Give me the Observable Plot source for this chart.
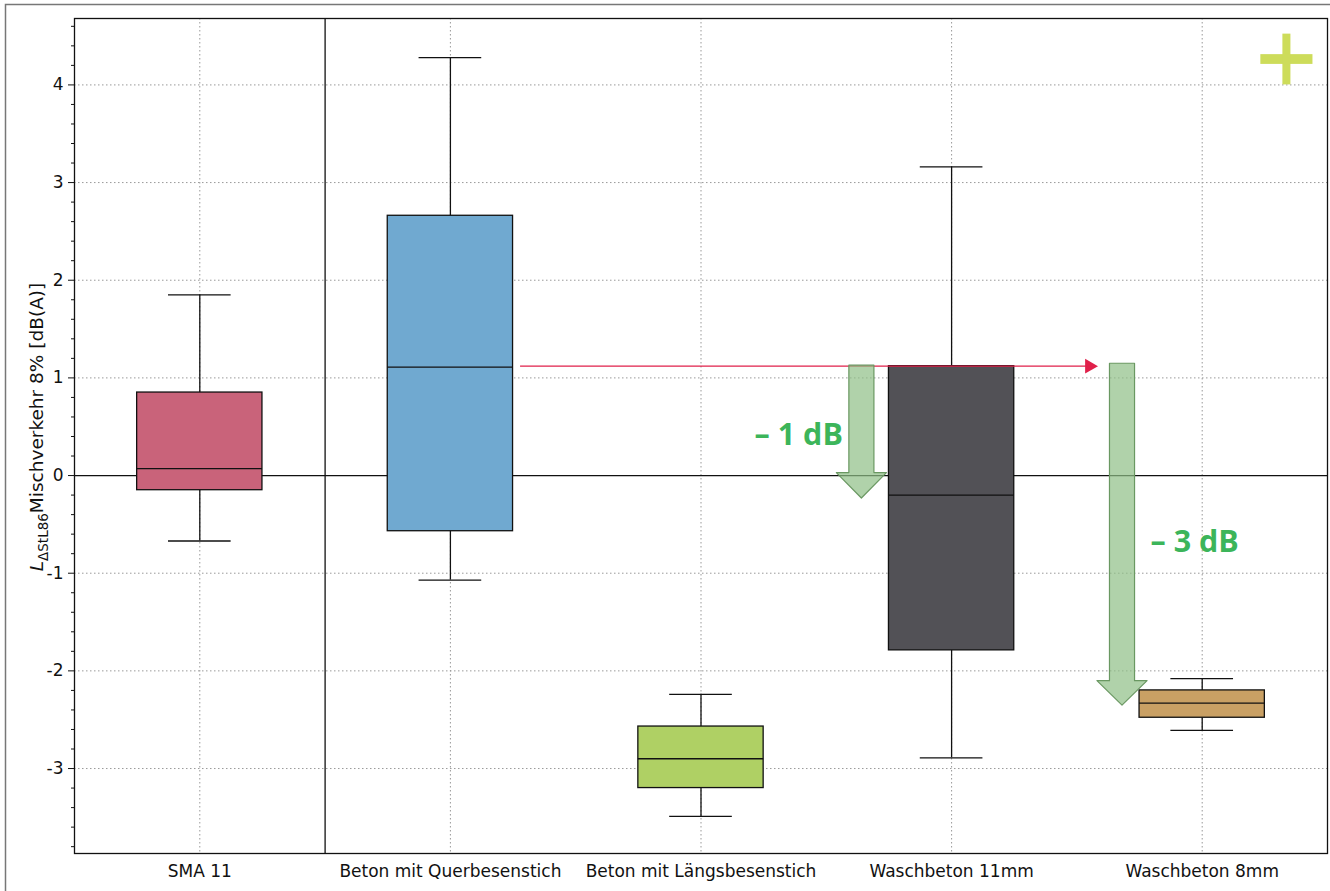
<!DOCTYPE html>
<html>
<head>
<meta charset="utf-8">
<script src="https://cdn.jsdelivr.net/npm/d3@7"></script>
<script src="https://cdn.jsdelivr.net/npm/@observablehq/plot@0.6"></script>
<style>
  html, body { margin: 0; padding: 0; background: #fff; }
  #chart { position: relative; width: 1330px; height: 891px; }
</style>
</head>
<body>
<div id="chart"></div>
<script>
// ---- data ----
const categories = ["SMA 11", "Beton mit Querbesenstich", "Beton mit Längsbesenstich", "Waschbeton 11mm", "Waschbeton 8mm"];
const whiskerLow  = [-0.67, -1.07, -3.49, -2.89, -2.61];
const q1          = [-0.15, -0.57, -3.20, -1.79, -2.48];
const median      = [ 0.07,  1.11, -2.90, -0.20, -2.33];
const q3          = [ 0.85,  2.66, -2.57,  1.12, -2.20];
const whiskerHigh = [ 1.85,  4.28, -2.24,  3.16, -2.08];
const boxColors   = ["#c9637a", "#70a9d0", "#afd064", "#525156", "#c9a064"];
const yTicks = [-3, -2, -1, 0, 1, 2, 3, 4];

// annotations (data coordinates)
const refLevel = 1.12;               // red reference line level
const refFrom = 2.28, refTo = 4.57;  // red arrow x extent
const arrow1 = [[3.59,1.13],[3.69,1.13],[3.69,0.03],[3.74,0.03],[3.64,-0.23],[3.54,0.03],[3.59,0.03],[3.59,1.13]];
const arrow2 = [[4.63,1.15],[4.73,1.15],[4.73,-2.10],[4.78,-2.10],[4.68,-2.35],[4.58,-2.10],[4.63,-2.10],[4.63,1.15]];
const labels = [{x: 3.39, y: 0.41, text: "– 1 dB"}, {x: 4.97, y: -0.68, text: "– 3 dB"}];
const logoBars = [{x1: 5.234, x2: 5.442, y1: 4.31, y2: 4.21}, {x1: 5.322, x2: 5.354, y1: 4.52, y2: 4.0}];

const boxes = categories.map((c, i) => ({
  i: i + 1, cat: c, lo: whiskerLow[i], q1: q1[i], med: median[i], q3: q3[i], hi: whiskerHigh[i], color: boxColors[i]
}));
const halfBox = 0.25, halfCap = 0.125;
const minorTicks = d3.range(-38, 47, 2).map(v => v / 10).filter(v => !yTicks.includes(v));

const plot = Plot.plot({
  width: 1330,
  height: 891,
  marginLeft: 74,
  marginRight: 3,
  marginTop: 18,
  marginBottom: 38,
  style: {fontFamily: "DejaVu Sans, sans-serif", fontSize: "17px", color: "#111", background: "transparent"},
  x: {type: "linear", domain: [0.5, 5.5]},
  y: {domain: [-3.87, 4.68]},
  marks: [
    Plot.gridX([1,2,3,4,5], {stroke: "#999", strokeOpacity: 1, strokeDasharray: "1.5,2.5"}),
    Plot.gridY(yTicks.filter(d => d !== 0), {stroke: "#999", strokeOpacity: 1, strokeDasharray: "1.5,2.5"}),
    Plot.ruleY([0], {stroke: "#111", strokeWidth: 1.3}),
    Plot.ruleX([1.5], {stroke: "#111", strokeWidth: 1.3}),
    // whiskers
    Plot.ruleX(boxes, {x: "i", y1: "lo", y2: "q1", stroke: "#111", strokeWidth: 1.3}),
    Plot.ruleX(boxes, {x: "i", y1: "q3", y2: "hi", stroke: "#111", strokeWidth: 1.3}),
    Plot.ruleY(boxes, {y: "lo", x1: d => d.i - halfCap, x2: d => d.i + halfCap, stroke: "#111", strokeWidth: 1.3}),
    Plot.ruleY(boxes, {y: "hi", x1: d => d.i - halfCap, x2: d => d.i + halfCap, stroke: "#111", strokeWidth: 1.3}),
    // boxes
    Plot.rect(boxes, {x1: d => d.i - halfBox, x2: d => d.i + halfBox, y1: "q1", y2: "q3", fill: d => d.color, stroke: "#111", strokeWidth: 1.3}),
    Plot.ruleY(boxes, {y: "med", x1: d => d.i - halfBox, x2: d => d.i + halfBox, stroke: "#111", strokeWidth: 1.3}),
    // red reference arrow
    Plot.ruleY([refLevel], {x1: refFrom, x2: refTo - 0.02, stroke: "#e0204a", strokeWidth: 1.4}),
    Plot.dot([refLevel], {x: refTo - 0.02, y: d => d, symbol: "triangle", rotate: 90, r: 5.5, fill: "#e0204a", stroke: "none"}),
    // green arrows
    Plot.line(arrow1, {x: d => d[0], y: d => d[1], fill: "#8fbf86", fillOpacity: 0.7, stroke: "#6a9862", strokeWidth: 1.2, curve: "linear"}),
    Plot.line(arrow2, {x: d => d[0], y: d => d[1], fill: "#8fbf86", fillOpacity: 0.7, stroke: "#6a9862", strokeWidth: 1.2, curve: "linear"}),
    Plot.text(labels, {x: "x", y: "y", text: "text", fill: "#3cb55a", fontSize: 30.5, fontWeight: "bold", fontFamily: "Open Sans, Noto Sans, sans-serif"}),
    // logo plus
    Plot.rect(logoBars, {x1: "x1", x2: "x2", y1: "y1", y2: "y2", fill: "#cddc5a"}),
    // axes
    Plot.axisY(minorTicks, {tickSize: 3, text: null, stroke: "#111"}),
    Plot.axisY(yTicks, {tickSize: 6, tickPadding: 5, tickFormat: d => String(d), label: null, fontSize: 17, stroke: "#111"}),
    Plot.axisX([1,2,3,4,5], {tickSize: 0, tickPadding: 11, tickFormat: d => categories[d - 1], label: null, fontSize: 17}),
    Plot.frame({stroke: "#111", strokeWidth: 1.3})
  ]
});

document.getElementById("chart").appendChild(plot);

// outer border and y-axis label with subscript
const svg = d3.select(plot);
svg.append("rect").attr("x", 5.5).attr("y", 4.5).attr("width", 1340).attr("height", 900)
  .attr("fill", "none").attr("stroke", "#777").attr("stroke-width", 1.5);
const ylab = svg.append("text")
  .attr("transform", "translate(43,427) rotate(-90)")
  .attr("text-anchor", "middle")
  .attr("font-family", "DejaVu Sans, sans-serif")
  .attr("font-size", 18.5)
  .attr("fill", "#111");
ylab.append("tspan").attr("font-style", "italic").text("L");
ylab.append("tspan").attr("font-size", 13.5).attr("dy", 4.5).text("ΔStL86");
ylab.append("tspan").attr("dy", -4.5).text("Mischverkehr 8% [dB(A)]");
</script>
</body>
</html>
